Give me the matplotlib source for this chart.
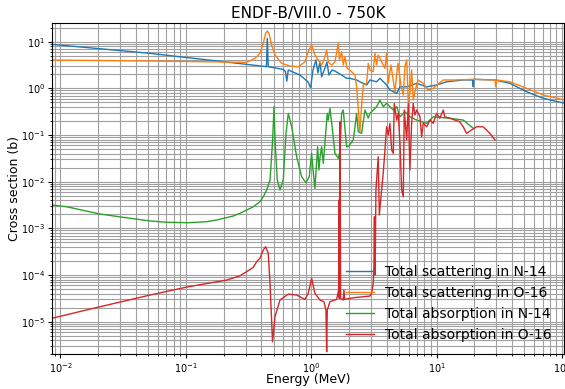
import numpy as np
import matplotlib.pyplot as plt

# energies in MeV, cross sections in barns
e_scat_n14 = [0.00851, 0.0518, 0.420, 0.439, 0.446, 0.454, 0.598, 0.623, 0.638, 0.656,
              0.812, 0.941, 0.989, 1.032, 1.090, 1.130, 1.173, 1.210, 1.286, 1.334,
              1.384, 1.462, 1.545, 1.642, 1.747, 1.915, 2.035, 2.301, 2.444, 2.766,
              2.938, 3.32, 3.53, 3.99, 4.24, 4.80, 5.10, 5.77, 6.93, 8.32,
              10.0, 12.0, 16.3, 19.3, 19.6, 19.8, 29.2, 38.4, 52.2, 70.8,
              105.5, 150.0]
xs_scat_n14 = [8.77, 5.62, 2.96, 2.90, 11.8, 2.90, 2.55, 2.27, 1.43, 2.47,
               1.93, 1.38, 1.03, 2.47, 4.04, 2.13, 3.72, 1.77, 2.72, 3.66,
               1.93, 2.47, 2.35, 2.13, 1.93, 1.64, 1.64, 1.51, 1.38, 1.18,
               1.51, 1.38, 1.64, 1.18, 0.920, 0.782, 1.08, 1.08, 1.28, 1.08,
               1.18, 1.38, 1.51, 1.51, 1.08, 1.56, 1.51, 1.28, 0.846, 0.611,
               0.477, 0.39]

e_scat_o16 = [0.00851, 0.0518, 0.305, 0.356, 0.390, 0.414, 0.433, 0.446, 0.460, 0.483,
              0.514, 0.581,
              0.676, 0.788, 0.891, 0.946, 1.007, 1.070, 1.210, 1.262, 1.327, 1.367,
              1.454, 1.545, 1.642, 1.679, 1.747, 1.799, 1.857, 1.927, 2.100, 2.230,
              2.301, 2.371, 2.444, 2.522, 2.600, 2.766, 2.850, 2.938, 3.121, 3.22,
              3.32, 3.42, 3.64, 3.87, 3.99, 4.11, 4.32, 4.65, 4.91, 5.19,
              5.42, 5.59, 5.77, 5.94, 6.12, 6.32, 6.51, 6.71, 7.09, 7.82,
              8.52, 9.40, 10.24, 11.3, 13.6, 19.6, 29.2, 29.6, 30.1, 38.4,
              52.2, 70.8, 105.5, 150.0]
xs_scat_o16 = [4.04, 3.85, 3.61, 4.39, 5.62, 9.21, 15.1, 16.9, 15.1, 8.47,
               5.17, 3.43,
               3.01, 2.90, 3.72, 6.08, 8.47, 5.17, 3.16, 4.04, 6.62, 3.66,
               3.16, 3.66, 9.21, 4.04, 6.08, 3.16, 4.76, 2.72, 2.27, 1.93,
               1.08, 0.373, 0.1175, 0.439, 1.18, 1.28, 3.43, 2.47, 2.27, 5.62,
               3.16, 5.17, 3.72, 2.68, 5.62, 1.28, 3.16, 0.846, 3.48, 1.18,
               0.719, 3.01, 4.04, 0.516, 0.782, 2.47, 0.561, 0.846, 1.51, 1.28,
               0.920, 1.0, 1.24, 1.51, 1.51, 1.56, 1.51, 1.08, 1.51, 1.38,
               1.0, 0.719, 0.561, 0.47]

e_abs_n14 = [0.00851, 0.01121, 0.02065, 0.0317, 0.0518, 0.0703, 0.1045, 0.1466, 0.176, 0.239,
             0.270, 0.345, 0.390, 0.414, 0.441, 0.469,
             0.492, 0.505, 0.514, 0.536, 0.563, 0.598, 0.629, 0.656, 0.698, 0.765,
             0.838, 0.907, 0.964, 1.007, 1.037, 1.070, 1.124, 1.152, 1.173, 1.210,
             1.247, 1.342, 1.367, 1.410, 1.462, 1.545, 1.642, 1.694, 1.747, 1.799,
             1.915, 1.973, 2.163, 2.301, 2.371, 2.522, 2.680, 2.850, 2.938, 3.121,
             3.32, 3.53, 3.75, 3.99, 4.24, 4.51, 4.80, 5.10, 5.59, 6.12,
             6.93, 8.32, 9.40, 12.8, 16.3, 19.6]
xs_abs_n14 = [0.00316, 0.00290, 0.00203, 0.00172, 0.00144, 0.00135, 0.00132, 0.00139, 0.00151, 0.00184,
              0.00210, 0.00290, 0.00372, 0.00475, 0.00662, 0.0108,
              0.0780, 0.404, 0.0780, 0.0108, 0.00662, 0.0108, 0.1086, 0.291, 0.150, 0.0342,
              0.0128, 0.00949, 0.0128, 0.0405, 0.0163, 0.00720, 0.0561, 0.0178, 0.0321, 0.0561,
              0.0247, 0.291, 0.209, 0.373, 0.1636, 0.0405, 0.0316, 0.0438, 0.291, 0.343,
              0.0561, 0.0561, 0.0780, 0.291, 0.1175, 0.1086, 0.343, 0.231, 0.291, 0.343,
              0.404, 0.561, 0.404, 0.477, 0.404, 0.343, 0.404, 0.246, 0.315, 0.246,
              0.209, 0.178, 0.246, 0.228, 0.209, 0.139]

e_abs_o16 = [0.00851, 0.02065, 0.0518, 0.1045, 0.2115, 0.270, 0.305, 0.345, 0.367, 0.390,
             0.414, 0.433, 0.454,
             0.469, 0.491, 0.514, 0.563, 0.656, 0.765, 0.891, 0.946, 1.007, 1.070,
             1.173, 1.262, 1.310, 1.327, 1.342, 1.410, 1.594, 1.653, 1.663, 1.672,
             1.694, 1.715, 1.799, 1.823, 1.847, 2.163, 2.938, 3.032, 3.121, 3.16,
             3.19, 3.23, 3.28, 3.42, 3.49, 3.64, 3.75, 3.87, 3.99, 4.11,
             4.24, 4.38, 4.51, 4.59, 4.80, 4.94, 5.10, 5.26, 5.42, 5.52,
             5.77, 5.94, 6.12, 6.32, 6.51, 6.71, 6.93, 7.36, 7.59, 7.82,
             8.32, 8.85, 9.40, 10.0, 10.6, 11.3, 11.6, 12.8, 14.0, 15.3,
             16.3, 17.3, 19.0, 20.8, 23.5, 26.6, 29.2]
xs_abs_o16 = [1.18e-5, 2.09e-5, 3.72e-5, 5.6e-5, 7.8e-5, 9.6e-5, 1.18e-4, 1.46e-4, 1.93e-4, 2.28e-4,
              3.43e-4, 4.03e-4, 2.92e-4,
              6.6e-5, 3.72e-6, 1.28e-5, 2.91e-5, 3.9e-5, 3.72e-5, 3.01e-5, 4.05e-5, 8.5e-5, 4.05e-5,
              2.91e-5, 2.68e-5, 1.77e-5, 2.27e-6, 1.77e-5, 2.68e-5, 3.01e-5, 4.77e-5, 4.04e-3, 3.16e-5,
              0.192, 3.16e-5, 2.91e-5, 4.77e-5, 3.0e-5, 3.26e-5, 3.54e-5, 4.05e-5, 6.6e-5, 1.51e-4,
              1.77e-3, 1.0e-4, 6.62e-3, 0.0342, 1.93e-3, 6.62e-3, 0.0151, 0.0476, 0.150, 0.0999,
              0.178, 0.0476, 0.0405, 0.477, 0.209, 0.291, 0.0662, 6.62e-3, 4.75e-3, 0.343,
              0.0780, 0.477, 0.0178, 0.178, 0.477, 0.268, 0.343, 0.246, 0.0918, 0.178,
              0.150, 0.209, 0.178, 0.291, 0.228, 0.343, 0.246, 0.228, 0.209, 0.192,
              0.150, 0.1086, 0.128, 0.150, 0.150, 0.1086, 0.0780]

fig = plt.figure(figsize=(5.65, 3.89), dpi=100)
ax = fig.add_axes([0.0915, 0.0892, 0.907, 0.851])

ax.loglog(e_scat_n14, xs_scat_n14, lw=1, label='Total scattering in N-14')
ax.loglog(e_scat_o16, xs_scat_o16, lw=1, label='Total scattering in O-16')
ax.loglog(e_abs_n14, xs_abs_n14, lw=1, label='Total absorption in N-14')
ax.loglog(e_abs_o16, xs_abs_o16, lw=1, label='Total absorption in O-16')

ax.set_xlim(0.00851, 104)
ax.set_ylim(2.0e-6, 24.8)
ax.grid(True, which='both', color='#a0a0a0', lw=0.8)
ax.tick_params(which='major', labelsize=7, length=2.8, pad=2)
ax.tick_params(which='minor', length=1.6)
ax.set_title('ENDF-B/VIII.0 - 750K', fontsize=11, pad=4)
ax.set_xlabel('Energy (MeV)', fontsize=9, labelpad=-1.6)
ax.set_ylabel('Cross section (b)', fontsize=9, labelpad=0)
ax.legend(loc='lower right', frameon=False, fontsize=10)

fig.savefig('out.png', dpi=100)
